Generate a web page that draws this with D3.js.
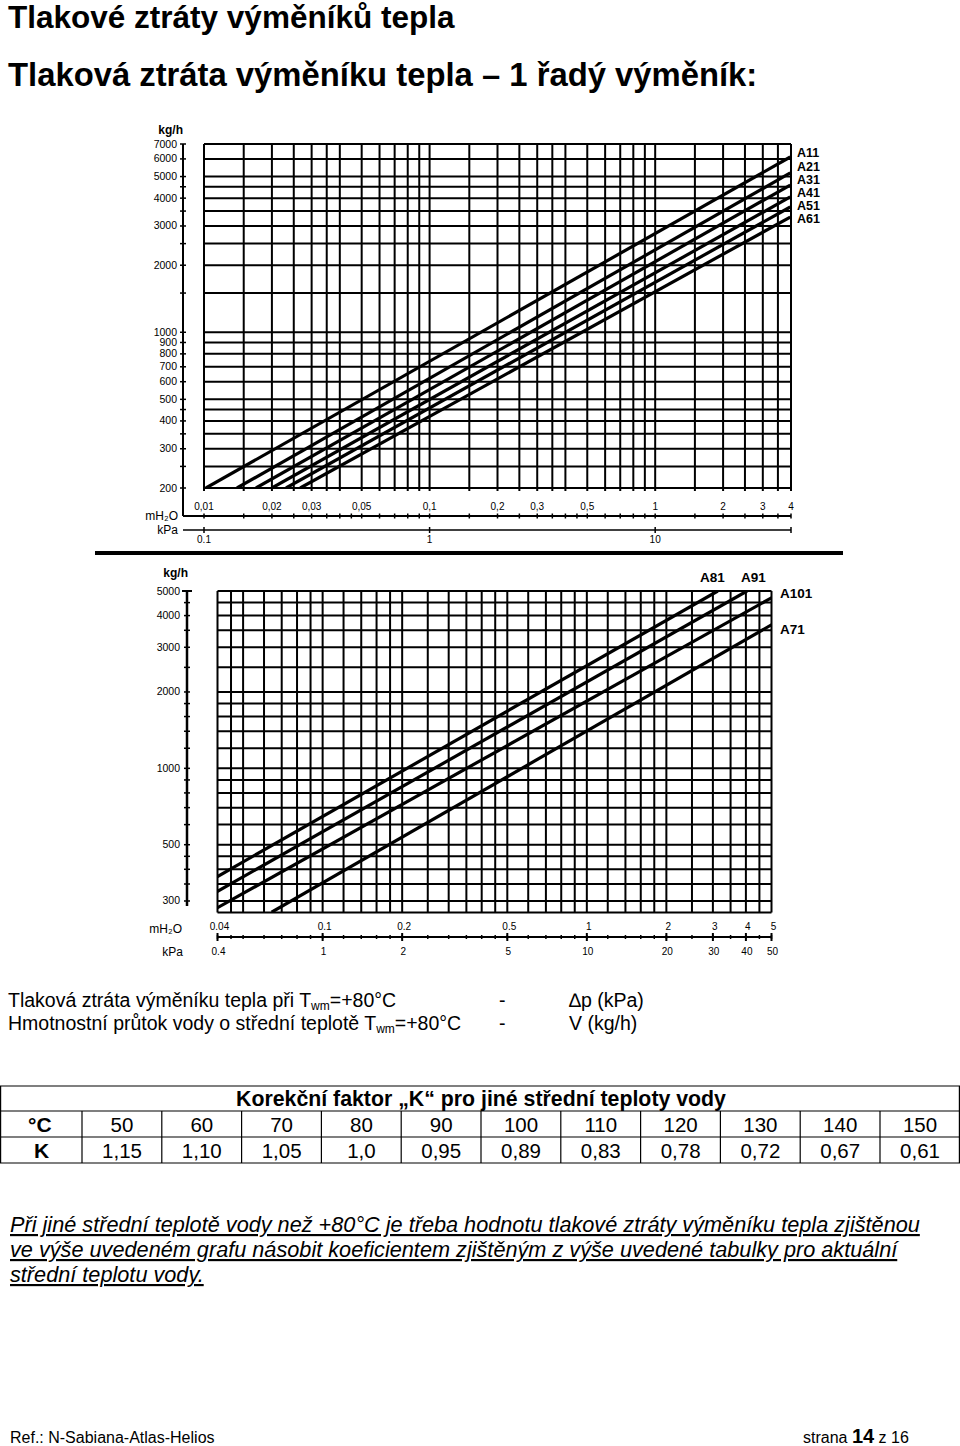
<!DOCTYPE html>
<html><head><meta charset="utf-8">
<script src="https://cdn.jsdelivr.net/npm/d3@7"></script>
<style>
body{margin:0;background:#fff;}
text{font-family:"Liberation Sans",Arial,sans-serif;}
</style></head>
<body><svg id="s" width="960" height="1446"></svg>
<script>
// ---------- DATA ----------
// top chart (1-row exchangers A11..A61): flow kg/h vs pressure drop kPa
const topFlowLabels = [200,300,400,500,600,700,800,900,1000,2000,3000,4000,5000,6000,7000];
const topFlowGrid = [200,250,300,350,400,450,500,600,700,800,900,1000,1500,2000,2500,3000,3500,4000,4500,5000,6000,7000];
const topMh2oLabels = [0.01,0.02,0.03,0.05,0.1,0.2,0.3,0.5,1,2,3,4];
const topMh2oGrid = [0.01,0.015,0.02,0.025,0.03,0.035,0.04,0.05,0.06,0.07,0.08,0.09,0.1,0.15,0.2,0.25,0.3,0.35,0.4,0.5,0.6,0.7,0.8,0.9,1,1.5,2,2.5,3,3.5,4];
const topMh2oTicks = [0.01,0.015,0.02,0.025,0.03,0.035,0.04,0.045,0.05,0.06,0.07,0.08,0.09,0.1,0.15,0.2,0.25,0.3,0.35,0.4,0.45,0.5,0.6,0.7,0.8,0.9,1,1.5,2,2.5,3,3.5,4];
const topKpaLabels = [0.1,1,10];
const topSeriesNames = ["A11","A21","A31","A41","A51","A61"];
// [kPa, kg/h] start and end points
const topSeriesStart = [[0.102,200],[0.140,200],[0.170,200],[0.200,200],[0.231,200],[0.267,200]];
const topSeriesEnd = [[39.7,6120],[39.7,5190],[39.7,4580],[39.7,4050],[39.7,3650],[39.7,3290]];

// bottom chart (A71..A101)
const botFlowLabels = [300,500,1000,2000,3000,4000,5000];
const botFlowGrid = [300,350,400,450,500,600,700,800,900,1000,1200,1400,1600,1800,2000,2500,3000,3500,4000,4500,5000];
const botMh2oLabels = [0.04,0.1,0.2,0.5,1,2,3,4,5];
const botKpaLabels = [0.4,1,2,5,10,20,30,40,50];
const botMh2oGrid = [0.04,0.045,0.05,0.06,0.07,0.08,0.09,0.1,0.12,0.14,0.16,0.18,0.2,0.25,0.3,0.35,0.4,0.45,0.5,0.6,0.7,0.8,0.9,1,1.2,1.4,1.6,1.8,2,2.5,3,3.5,4,4.5,5];
const botSeriesNames = ["A81","A91","A101","A71"];
const botSeriesStart = [[0.397,373],[0.397,326],[0.397,281],[0.641,271]];
const botSeriesEnd = [[31.3,5000],[40.4,5000],[50.6,4735],[50.6,3706]];

// correction table
const tempC = [50,60,70,80,90,100,110,120,130,140,150];
const kFactor = ["1,15","1,10","1,05","1,0","0,95","0,89","0,83","0,78","0,72","0,67","0,61"];

// ---------- DRAW ----------
const svg = d3.select("#s");
const comma = v => String(v).replace(".", ",");

function txt(x,y,s,o={}){
  const t = svg.append("text").attr("x",x).attr("y",y).text(s)
    .attr("font-size",o.size||12).attr("fill","#000");
  if(o.weight) t.attr("font-weight",o.weight);
  if(o.anchor) t.attr("text-anchor",o.anchor);
  if(o.style) t.attr("font-style",o.style);
  if(o.family) t.attr("font-family",o.family);
  return t;
}

// titles
txt(8,28,"Tlakové ztráty výměníků tepla",{size:31.5,weight:"bold"});
txt(8,86,"Tlaková ztráta výměníku tepla – 1 řadý výměník:",{size:32.8,weight:"bold"});

// ===== TOP CHART =====
const tx = d3.scaleLog().domain([0.1,40]).range([204,791]);   // kPa
const ty = d3.scaleLog().domain([200,7000]).range([488,144]);
const g1 = svg.append("g");
const tLeft = 183, tMh = 516, tKp = 530;

g1.selectAll(".hg").data(topFlowGrid).join("line")
  .attr("x1",tx(0.1)).attr("x2",tx(40)).attr("y1",d=>ty(d)).attr("y2",d=>ty(d))
  .attr("stroke","#000").attr("stroke-width",2);
g1.selectAll(".vg").data(topMh2oGrid).join("line")
  .attr("x1",d=>tx(d*10)).attr("x2",d=>tx(d*10)).attr("y1",ty(7000)).attr("y2",ty(200)+3)
  .attr("stroke","#000").attr("stroke-width",2);

svg.append("clipPath").attr("id","c1").append("rect")
  .attr("x",tx(0.1)).attr("y",ty(7000)).attr("width",tx(40)-tx(0.1)).attr("height",ty(200)-ty(7000));
const line1 = d3.line().x(d=>tx(d[0])).y(d=>ty(d[1]));
g1.selectAll(".sl").data(topSeriesNames).join("path")
  .attr("d",(d,i)=>line1([topSeriesStart[i],topSeriesEnd[i]]))
  .attr("fill","none").attr("stroke","#000").attr("stroke-width",3.2).attr("clip-path","url(#c1)");

// y axis
g1.append("line").attr("x1",tLeft).attr("x2",tLeft).attr("y1",ty(7000)).attr("y2",tMh).attr("stroke","#000").attr("stroke-width",2);
g1.selectAll(".yt").data(topFlowGrid).join("line")
  .attr("x1",tLeft-3).attr("x2",tLeft+3).attr("y1",d=>ty(d)).attr("y2",d=>ty(d)).attr("stroke","#000").attr("stroke-width",1.5);
g1.selectAll(".yl").data(topFlowLabels).join("text")
  .attr("x",tLeft-6).attr("y",d=>ty(d)+3.5).attr("text-anchor","end").attr("font-size",10.5).text(d=>d);
txt(183,134,"kg/h",{size:12,weight:"bold",anchor:"end"});

// mH2O axis
g1.append("line").attr("x1",tLeft).attr("x2",tx(40)).attr("y1",tMh).attr("y2",tMh).attr("stroke","#000").attr("stroke-width",2);
g1.selectAll(".mt").data(topMh2oTicks).join("line")
  .attr("x1",d=>tx(d*10)).attr("x2",d=>tx(d*10)).attr("y1",tMh-2.5).attr("y2",tMh+2.5).attr("stroke","#000").attr("stroke-width",1.5);
g1.selectAll(".ml").data(topMh2oLabels).join("text")
  .attr("x",d=>tx(d*10)).attr("y",tMh-6).attr("text-anchor","middle").attr("font-size",10).text(comma);
// kPa axis
g1.append("line").attr("x1",tLeft).attr("x2",tx(40)).attr("y1",tKp).attr("y2",tKp).attr("stroke","#000").attr("stroke-width",1.5);
g1.selectAll(".kt").data(topKpaLabels.concat([40])).join("line")
  .attr("x1",d=>tx(d)).attr("x2",d=>tx(d)).attr("y1",tKp-3).attr("y2",tKp+3).attr("stroke","#000").attr("stroke-width",1.5);
g1.selectAll(".kl").data(topKpaLabels).join("text")
  .attr("x",d=>tx(d)).attr("y",tKp+13).attr("text-anchor","middle").attr("font-size",10).text(d=>d);
txt(178,520,"mH₂O",{size:12,anchor:"end"});
txt(178,534,"kPa",{size:12,anchor:"end"});

// legend labels
const topLabY = [157,171,184,197,210,223];
g1.selectAll(".lg").data(topSeriesNames).join("text")
  .attr("x",797).attr("y",(d,i)=>topLabY[i]).attr("font-size",12.5).attr("font-weight","bold").text(d=>d);

// separator
svg.append("line").attr("x1",95).attr("x2",843).attr("y1",553).attr("y2",553).attr("stroke","#000").attr("stroke-width",4);

// ===== BOTTOM CHART =====
const bx = d3.scaleLog().domain([0.4,50]).range([217.5,771.5]);
const by = d3.scaleLog().domain([270,5000]).range([912.6,591]);
const g2 = svg.append("g");
const bLeft = 187, bAx = 937;

g2.selectAll(".hg").data(botFlowGrid.concat([270])).join("line")
  .attr("x1",bx(0.4)).attr("x2",bx(50)).attr("y1",d=>by(d)).attr("y2",d=>by(d))
  .attr("stroke","#000").attr("stroke-width",2);
g2.selectAll(".vg").data(botMh2oGrid).join("line")
  .attr("x1",d=>bx(d*10)).attr("x2",d=>bx(d*10)).attr("y1",by(5000)).attr("y2",by(270))
  .attr("stroke","#000").attr("stroke-width",2);

svg.append("clipPath").attr("id","c2").append("rect")
  .attr("x",bx(0.4)).attr("y",by(5000)).attr("width",bx(50)-bx(0.4)).attr("height",by(270)-by(5000));
const line2 = d3.line().x(d=>bx(d[0])).y(d=>by(d[1]));
g2.selectAll(".sl").data(botSeriesNames).join("path")
  .attr("d",(d,i)=>line2([botSeriesStart[i],botSeriesEnd[i]]))
  .attr("fill","none").attr("stroke","#000").attr("stroke-width",3.2).attr("clip-path","url(#c2)");

// y axis
g2.append("line").attr("x1",bLeft).attr("x2",bLeft).attr("y1",by(5000)).attr("y2",906).attr("stroke","#000").attr("stroke-width",2.5);
g2.append("line").attr("x1",bLeft-5).attr("x2",bLeft+5).attr("y1",by(5000)).attr("y2",by(5000)).attr("stroke","#000").attr("stroke-width",2);
g2.selectAll(".yt").data(botFlowGrid).join("line")
  .attr("x1",bLeft-3).attr("x2",bLeft+3).attr("y1",d=>by(d)).attr("y2",d=>by(d)).attr("stroke","#000").attr("stroke-width",1.5);
g2.selectAll(".yl").data(botFlowLabels).join("text")
  .attr("x",bLeft-7).attr("y",d=>by(d)+3.5).attr("text-anchor","end").attr("font-size",10.5).text(d=>d);
txt(188,577,"kg/h",{size:12,weight:"bold",anchor:"end"});

// bottom axis
g2.append("line").attr("x1",bx(0.4)).attr("x2",bx(50)).attr("y1",bAx).attr("y2",bAx).attr("stroke","#000").attr("stroke-width",2);
g2.selectAll(".mt").data(botMh2oGrid).join("line")
  .attr("x1",d=>bx(d*10)).attr("x2",d=>bx(d*10)).attr("y1",bAx-2).attr("y2",bAx+2).attr("stroke","#000").attr("stroke-width",1.5);
g2.selectAll(".mj").data(botMh2oLabels).join("line")
  .attr("x1",d=>bx(d*10)).attr("x2",d=>bx(d*10)).attr("y1",bAx-4).attr("y2",bAx+4).attr("stroke","#000").attr("stroke-width",2);
g2.selectAll(".ml").data(botMh2oLabels).join("text")
  .attr("x",d=>bx(d*10)+2).attr("y",bAx-7).attr("text-anchor","middle").attr("font-size",10).text(d=>d);
g2.selectAll(".kl").data(botKpaLabels).join("text")
  .attr("x",d=>bx(d)+1).attr("y",bAx+18).attr("text-anchor","middle").attr("font-size",10).text(d=>d);
txt(182,933,"mH₂O",{size:12,anchor:"end"});
txt(183,956,"kPa",{size:12,anchor:"end"});

const botLab = [[700,582],[741,582],[780,598],[780,634]];
g2.selectAll(".lg").data(botSeriesNames).join("text")
  .attr("x",(d,i)=>botLab[i][0]).attr("y",(d,i)=>botLab[i][1]).attr("font-size",13.5).attr("font-weight","bold").text(d=>d);

// ===== description lines =====
function twm(x,y,pre,post){
  const t = svg.append("text").attr("x",x).attr("y",y).attr("font-size",19.5);
  t.append("tspan").text(pre+"T");
  t.append("tspan").attr("font-size",12).attr("dy",3).text("wm");
  t.append("tspan").attr("dy",-3).text(post);
}
twm(8,1007,"Tlaková ztráta výměníku tepla při ","=+80°C");
twm(8,1030,"Hmotnostní průtok vody o střední teplotě ","=+80°C");
txt(499,1007,"-",{size:19.5});
txt(499,1030,"-",{size:19.5});
txt(569,1007,"∆p (kPa)",{size:19.5});
txt(569,1030,"V (kg/h)",{size:19.5});

// ===== table =====
const tb = svg.append("g");
const colX = d3.range(12).map(i=>82+i*79.8);
const rows = [1086,1111,1137,1163];
tb.selectAll(".hl").data(rows).join("line").attr("x1",0).attr("x2",960).attr("y1",d=>d).attr("y2",d=>d).attr("stroke","#000").attr("stroke-width",1.2);
tb.append("line").attr("x1",0.6).attr("x2",0.6).attr("y1",1086).attr("y2",1163).attr("stroke","#000").attr("stroke-width",1.2);
tb.append("line").attr("x1",959.4).attr("x2",959.4).attr("y1",1086).attr("y2",1163).attr("stroke","#000").attr("stroke-width",1.2);
tb.selectAll(".vl").data(colX.slice(0,11)).join("line").attr("x1",d=>d).attr("x2",d=>d).attr("y1",1111).attr("y2",1163).attr("stroke","#000").attr("stroke-width",1.2);
txt(481,1106,"Korekční faktor „K“ pro jiné střední teploty vody",{size:21.3,weight:"bold",anchor:"middle"});
txt(28,1132,"°C",{size:21,weight:"bold"});
txt(34,1158,"K",{size:21,weight:"bold"});
tb.selectAll(".tc").data(tempC).join("text").attr("x",(d,i)=>colX[i]+40).attr("y",1132).attr("text-anchor","middle").attr("font-size",20.5).text(d=>d);
tb.selectAll(".kf").data(kFactor).join("text").attr("x",(d,i)=>colX[i]+40).attr("y",1158).attr("text-anchor","middle").attr("font-size",20.5).text(d=>d);

// ===== note =====
const note = ["Při jiné střední teplotě vody než +80°C je třeba hodnotu tlakové ztráty výměníku tepla zjištěnou",
  "ve výše uvedeném grafu násobit koeficientem zjištěným z výše uvedené tabulky pro aktuální",
  "střední teplotu vody."];
note.forEach((s,i)=>txt(10,1232+i*25,s,{size:21.7,style:"italic"}).attr("text-decoration","underline"));

// footer
txt(10,1443,"Ref.: N-Sabiana-Atlas-Helios",{size:16,family:"'Liberation Sans Narrow','Liberation Sans',sans-serif"});
const ft = svg.append("text").attr("x",803).attr("y",1443).attr("font-size",16).attr("font-family","'Liberation Sans Narrow','Liberation Sans',sans-serif");
ft.append("tspan").text("strana ");
ft.append("tspan").attr("font-weight","bold").attr("font-size",20).text("14");
ft.append("tspan").text(" z 16");
</script></body></html>
